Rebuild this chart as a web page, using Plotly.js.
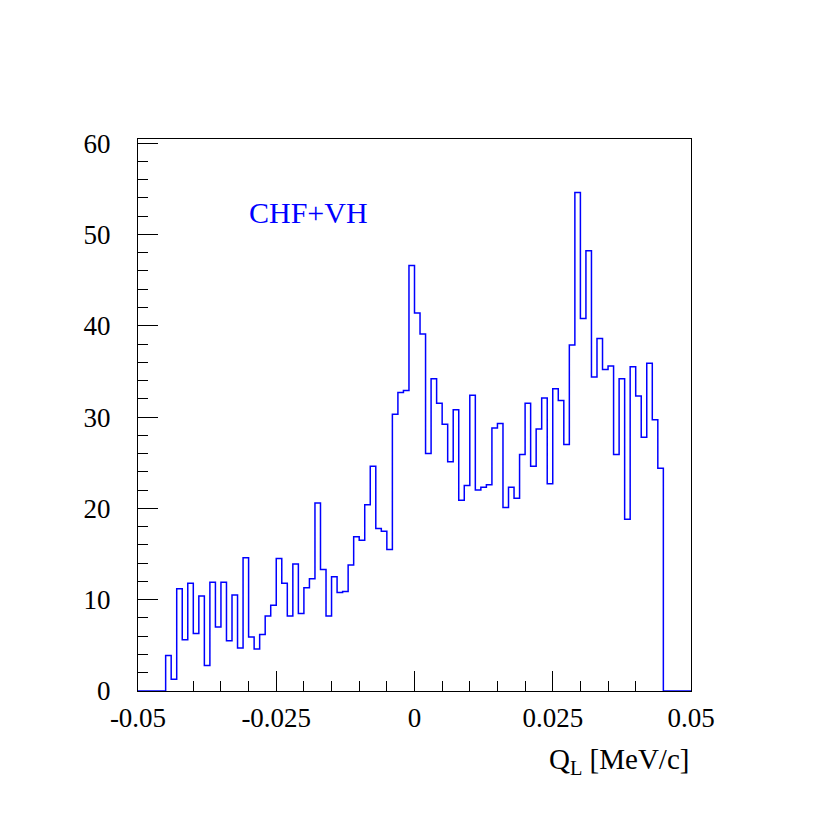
<!DOCTYPE html>
<html>
<head>
<meta charset="utf-8">
<script src="https://cdn.plot.ly/plotly-3.0.1.min.js"></script>
<style>
  body { margin: 0; background: #fff; }
  #plot { width: 830px; height: 830px; }
</style>
</head>
<body>
<div id="plot"></div>
<script>
// histogram: 100 bins of width 0.001 from -0.05 to 0.05
const xMin = -0.05;
const binWidth = 0.001;
const counts = [
  0, 0, 0, 0, 0,
  3.9, 1.3, 11.2, 5.6, 11.8, 6.3, 10.4, 2.8, 11.9, 7.0,
  11.9, 5.5, 10.5, 4.7, 14.6, 5.9, 4.6, 6.2, 8.2, 9.4,
  14.5, 11.8, 8.2, 13.9, 8.5, 11.3, 12.3, 20.6, 13.3, 8.2,
  12.5, 10.8, 10.9, 13.8, 16.9, 16.5, 20.4, 24.6, 17.8, 17.5,
  15.5, 30.3, 32.7, 32.9, 46.6, 41.4, 39.1, 26.0, 34.2, 31.5,
  29.2, 25.1, 30.8, 20.9, 22.5, 32.4, 22.0, 22.3, 22.6, 28.8,
  29.3, 20.1, 22.3, 21.1, 25.9, 31.5, 24.6, 28.7, 32.1, 22.7,
  33.1, 31.8, 27.0, 37.9, 54.6, 40.8, 48.2, 34.4, 38.6, 35.2,
  35.6, 25.9, 34.2, 18.8, 35.5, 32.3, 27.8, 35.9, 29.7, 24.4,
  0, 0, 0, 0, 0
];
const xTickVals = [-0.05, -0.025, 0, 0.025, 0.05];
const xTickText = ["-0.05", "-0.025", "0", "0.025", "0.05"];
const label = "CHF+VH";

let edges = [];
for (let i = 0; i <= counts.length; i++) {
    edges.push(xMin + i * binWidth);
}
let yStep = counts.concat([counts[counts.length - 1]]);

let trace1 = {
    x: edges, y: yStep, type: "scatter", mode: "lines",
    line: {shape: "hv", color: "#0000ff", width: 1.5},
    cliponaxis: false, hoverinfo: "skip"
};

let font = {family: "Liberation Serif, Times New Roman, serif", size: 27, color: "black"};

let layout1 = {
    width: 830, height: 830,
    margin: {l: 138, r: 139, t: 139, b: 139},
    paper_bgcolor: "white", plot_bgcolor: "white",
    showlegend: false,
    font: font,
    xaxis: {
        range: [-0.05, 0.05], showgrid: false, zeroline: false,
        showline: true, linecolor: "black", linewidth: 1, mirror: true,
        ticks: "inside", ticklen: 20, tickcolor: "black", tickwidth: 1,
        tickmode: "array", tickvals: xTickVals, ticktext: xTickText,
        minor: {dtick: 0.005, tick0: -0.05, ticks: "inside", ticklen: 10, tickcolor: "black", showgrid: false},
        tickfont: font, layer: "below traces", ticklabelstandoff: 3
    },
    yaxis: {
        range: [0, 60.45], showgrid: false, zeroline: false,
        showline: true, linecolor: "black", linewidth: 1, mirror: true,
        ticks: "inside", ticklen: 20, tickcolor: "black", tickwidth: 1,
        tickmode: "linear", tick0: 0, dtick: 10,
        minor: {dtick: 2, tick0: 0, ticks: "inside", ticklen: 10, tickcolor: "black", showgrid: false},
        tickfont: font, layer: "below traces", ticklabelstandoff: 21
    },
    annotations: [
        {text: label, xref: "paper", yref: "paper", x: 0.198, y: 0.866,
         xanchor: "left", yanchor: "middle", showarrow: false,
         font: {family: font.family, size: 30, color: "#0000ff"}},
        {text: "Q<sub>L</sub> [MeV/c]", xref: "paper", yref: "paper", x: 1, y: 0,
         xanchor: "right", yanchor: "top", yshift: -50, showarrow: false,
         font: {family: font.family, size: 29, color: "black"}}
    ]
};

Plotly.newPlot("plot", [trace1], layout1, {displayModeBar: false, staticPlot: true});
</script>
</body>
</html>
